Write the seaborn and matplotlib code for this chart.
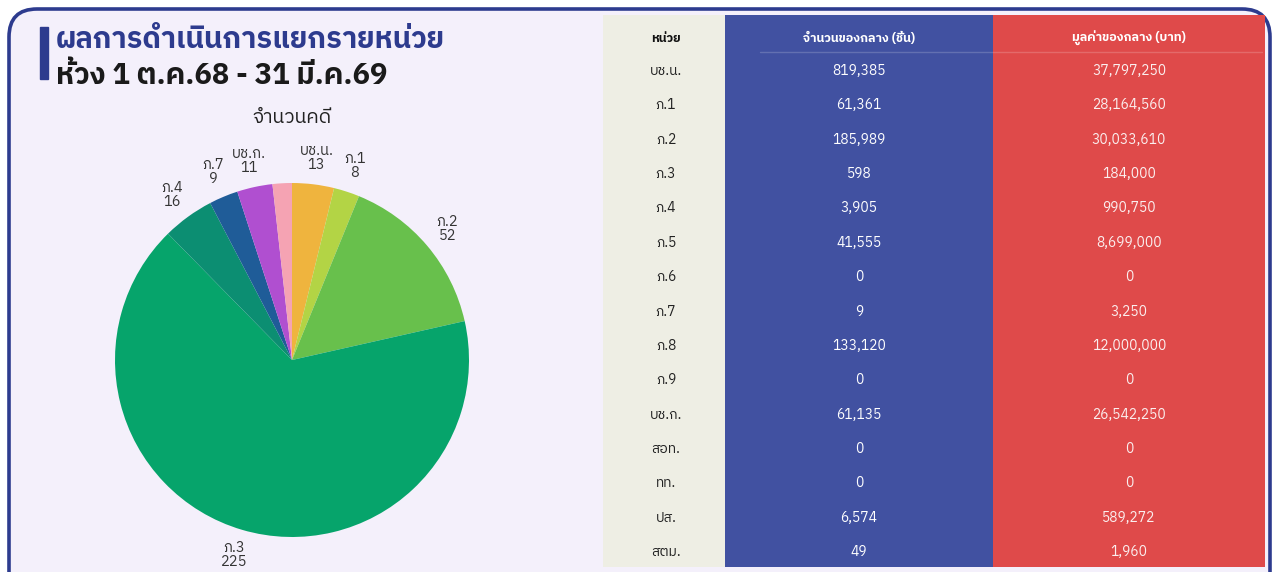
import numpy as np
import pandas as pd
import matplotlib
matplotlib.use("Agg")
import matplotlib.pyplot as plt
from matplotlib import font_manager
from matplotlib.patches import FancyBboxPatch, Rectangle
import seaborn as sns

# ---------------- data ----------------
pie_units = ["บช.น.", "ภ.1", "ภ.2", "ภ.3", "ภ.4", "ภ.7", "บช.ก.", "ปส."]
pie_cases = [13, 8, 52, 225, 16, 9, 11, 6]
pie_show_label = [True, True, True, True, True, True, True, False]
pie_colors = ["#EFB43E", "#B3D445", "#68C04C", "#06A46B", "#0C8E72", "#1F5C98", "#B04FD0", "#F5A3B3"]

table_units = ["บช.น.", "ภ.1", "ภ.2", "ภ.3", "ภ.4", "ภ.5", "ภ.6", "ภ.7", "ภ.8", "ภ.9",
               "บช.ก.", "สอท.", "ทท.", "ปส.", "สตม."]
items_count = [819385, 61361, 185989, 598, 3905, 41555, 0, 9, 133120, 0,
               61135, 0, 0, 6574, 49]
items_value = [37797250, 28164560, 30033610, 184000, 990750, 8699000, 0, 3250, 12000000, 0,
               26542250, 0, 0, 589272, 1960]
col_headers = ["หน่วย", "จำนวนของกลาง (ชิ้น)", "มูลค่าของกลาง (บาท)"]
title_line1 = "ผลการดำเนินการแยกรายหน่วย"
title_line2 = "ห้วง 1 ต.ค.68 - 31 มี.ค.69"
pie_title = "จำนวนคดี"

# ---------------- fonts ----------------
sns.set_theme(style="white")


def find_thai_fonts():
    found = []
    try:
        from fontTools.ttLib import TTFont
    except Exception:
        return found
    for f in font_manager.fontManager.ttflist:
        try:
            tt = TTFont(f.fname, fontNumber=0, lazy=True)
            cmap = tt.getBestCmap() or {}
            if 0x0E01 in cmap and 0x0E33 in cmap and 0x0E48 in cmap:
                if f.name not in found:
                    found.append(f.name)
        except Exception:
            pass
    return found


thai = find_thai_fonts()
pref = [n for n in thai if "Sans" in n] + [n for n in thai if "Sans" not in n]
families = pref[:1] + ["DejaVu Sans"]
plt.rcParams["font.family"] = families

W, H = 1277, 572
fig = plt.figure(figsize=(W / 100, H / 100), dpi=100)
fig.patch.set_facecolor("white")

# overlay axes in pixel coordinates
bg = fig.add_axes([0, 0, 1, 1])
bg.set_xlim(0, W)
bg.set_ylim(H, 0)
bg.axis("off")
panel = FancyBboxPatch((9, 9), 1261, 700, boxstyle="round,pad=0,rounding_size=28",
                       facecolor="#F4F0FB", edgecolor="#2D3B8E", linewidth=2.6)
bg.add_patch(panel)
bg.add_patch(Rectangle((40, 27), 8, 52, color="#2D3B8E"))
bg.text(56, 40, title_line1, fontsize=21, fontweight="bold", color="#2D3B8E", va="center", ha="left")
bg.text(56, 76, title_line2, fontsize=21, fontweight="bold", color="#1A1A1A", va="center", ha="left")
bg.text(292, 118, pie_title, fontsize=14, color="#222222", ha="center", va="center")

# ---------------- pie ----------------
cx, cy, half = 292, 360, 215
pax = fig.add_axes([(cx - half) / W, 1 - (cy + half) / H, 2 * half / W, 2 * half / H])
labels = [f"{u}\n{v}" if s else "" for u, v, s in zip(pie_units, pie_cases, pie_show_label)]
wedges, texts = pax.pie(pie_cases, labels=labels, colors=pie_colors, startangle=90,
                        counterclock=False, radius=177 / half, labeldistance=1.15,
                        wedgeprops=dict(linewidth=0), textprops=dict(fontsize=10.5, color="#333333"))
pax.set_xlim(-1, 1)
pax.set_ylim(-1, 1)
pax.axis("off")
for t in texts:
    t.set_ha("center")
    t.set_va("center")
    t.set_linespacing(1.0)

# ---------------- table ----------------
tx0, tx1, ty0, ty1 = 603, 1265, 15, 567
tax = fig.add_axes([tx0 / W, 1 - ty1 / H, (tx1 - tx0) / W, (ty1 - ty0) / H])
tax.set_xlim(tx0, tx1)
tax.set_ylim(ty1, ty0)
tax.axis("off")
col_edges = [603, 725, 993, 1265]
col_bg = ["#EEEEE4", "#4151A1", "#DF4A4A"]
for i in range(3):
    tax.axvspan(col_edges[i], col_edges[i + 1], color=col_bg[i], lw=0)
tax.plot([760, 1262], [52, 52], color="white", alpha=0.18, lw=1)

header_y = 38
row0, dy = 71, 34.36
centers = [(col_edges[i] + col_edges[i + 1]) / 2 for i in range(3)]
centers[0] = 666
tax.text(centers[0], header_y, col_headers[0], ha="center", va="center", fontsize=9,
         fontweight="bold", color="#111111")
for i in (1, 2):
    tax.text(centers[i], header_y, col_headers[i], ha="center", va="center", fontsize=9,
             fontweight="bold", color="white")

df = pd.DataFrame({"unit": table_units, "count": items_count, "value": items_value})
for r, row in df.iterrows():
    y = row0 + dy * r
    tax.text(centers[0], y, row["unit"], ha="center", va="center", fontsize=10, color="#222222")
    tax.text(centers[1], y, f"{row['count']:,}", ha="center", va="center", fontsize=10, color="white")
    tax.text(centers[2], y, f"{row['value']:,}", ha="center", va="center", fontsize=10, color="#FBEFEF")

fig.savefig("out.png", dpi=100, facecolor="white")
